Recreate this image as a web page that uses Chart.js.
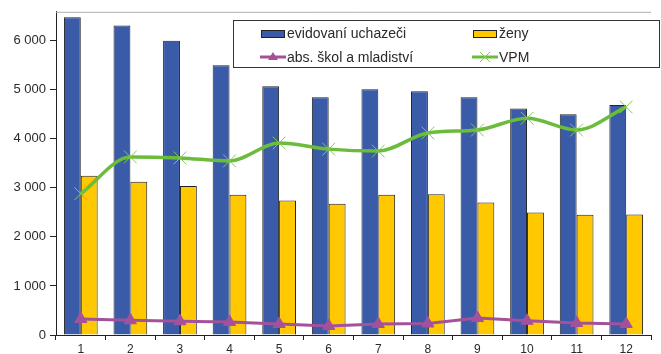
<!DOCTYPE html>
<html>
<head>
<meta charset="utf-8">
<script src="https://cdn.jsdelivr.net/npm/chart.js@4/dist/chart.umd.min.js"></script>
<style>
  html, body { margin: 0; padding: 0; background: #fff; }
  #wrap { width: 661px; height: 354px; }
</style>
</head>
<body>
<div id="wrap"><canvas id="chart" width="661" height="354"></canvas></div>
<script>
const months = ["1", "2", "3", "4", "5", "6", "7", "8", "9", "10", "11", "12"];
const evidovani = [6480, 6310, 6000, 5500, 5070, 4850, 5010, 4970, 4850, 4620, 4500, 4690];
const zeny = [3245, 3125, 3040, 2860, 2740, 2675, 2860, 2870, 2700, 2500, 2450, 2455];
const absolventi = [325, 300, 280, 265, 225, 185, 225, 235, 345, 290, 245, 225];
const vpm = [2880, 3630, 3610, 3550, 3915, 3790, 3750, 4120, 4180, 4420, 4180, 4650];
const yTicks = [0, 1000, 2000, 3000, 4000, 5000, 6000];

const FONT = "'Liberation Sans', Arial, sans-serif";
const blue = "#3a5ca8";
const yellow = "#ffc800";
const purple = "#a4519c";
const green = "#6cbc3c";
const textColor = "#2a2a2a";

function fmt(v) {
  return String(v).replace(/\B(?=(\d{3})+(?!\d))/g, " ");
}

// grey line along the top of the plot area
const framePlugin = {
  id: "frame",
  beforeDatasetsDraw(chart) {
    const a = chart.chartArea, ctx = chart.ctx;
    ctx.save();
    ctx.strokeStyle = "#b0b0b0";
    ctx.lineWidth = 1;
    ctx.beginPath();
    ctx.moveTo(a.left, a.top + 0.5);
    ctx.lineTo(a.right, a.top + 0.5);
    ctx.stroke();
    ctx.restore();
  }
};

// legend box in the top right, like the original
const legendPlugin = {
  id: "boxLegend",
  afterDraw(chart) {
    const ctx = chart.ctx;
    const ds = chart.data.datasets;
    ctx.save();
    ctx.fillStyle = "#fff";
    ctx.fillRect(233, 20, 426, 47);
    ctx.strokeStyle = "#333";
    ctx.lineWidth = 1;
    ctx.strokeRect(233.5, 20.5, 426, 47);

    const items = [
      { d: ds[0], x: 261, y: 33 },
      { d: ds[1], x: 473, y: 33 },
      { d: ds[2], x: 261, y: 57 },
      { d: ds[3], x: 473, y: 57 }
    ];
    ctx.font = "14px " + FONT;
    ctx.textBaseline = "middle";
    items.forEach(it => {
      const d = it.d;
      if (d.type === "line") {
        ctx.strokeStyle = d.borderColor;
        ctx.lineWidth = 3;
        ctx.beginPath();
        ctx.moveTo(it.x - 1, it.y);
        ctx.lineTo(it.x + 25, it.y);
        ctx.stroke();
        const cx = it.x + 12;
        if (d.pointStyle === "triangle") {
          ctx.fillStyle = d.borderColor;
          ctx.beginPath();
          ctx.moveTo(cx, it.y - 5);
          ctx.lineTo(cx + 5, it.y + 3);
          ctx.lineTo(cx - 5, it.y + 3);
          ctx.closePath();
          ctx.fill();
        } else {
          ctx.strokeStyle = d.pointBorderColor;
          ctx.lineWidth = 1;
          ctx.beginPath();
          ctx.moveTo(cx - 5, it.y - 5); ctx.lineTo(cx + 5, it.y + 5);
          ctx.moveTo(cx + 5, it.y - 5); ctx.lineTo(cx - 5, it.y + 5);
          ctx.stroke();
        }
      } else {
        ctx.fillStyle = d.backgroundColor;
        ctx.fillRect(it.x, it.y - 3, 23, 7);
        ctx.strokeStyle = "#222";
        ctx.lineWidth = 1;
        ctx.strokeRect(it.x + 0.5, it.y - 2.5, 23, 7);
      }
      ctx.fillStyle = textColor;
      ctx.fillText(d.label, it.x + 26, it.y + 1);
    });
    ctx.restore();
  }
};

new Chart(document.getElementById("chart"), {
  type: "bar",
  data: {
    labels: months,
    datasets: [
      {
        label: "evidovaní uchazeči",
        data: evidovani,
        backgroundColor: blue,
        borderColor: "#222",
        borderWidth: 1,
        order: 3
      },
      {
        label: "ženy",
        data: zeny,
        backgroundColor: yellow,
        borderColor: "#222",
        borderWidth: 1,
        order: 3
      },
      {
        type: "line",
        label: "abs. škol a mladiství",
        data: absolventi,
        borderColor: purple,
        backgroundColor: purple,
        borderWidth: 3,
        pointStyle: "triangle",
        pointRadius: 7,
        pointBackgroundColor: purple,
        pointBorderColor: purple,
        pointBorderWidth: 1,
        tension: 0,
        order: 1
      },
      {
        type: "line",
        label: "VPM",
        data: vpm,
        borderColor: green,
        backgroundColor: green,
        borderWidth: 3.5,
        pointStyle: "crossRot",
        pointRadius: 9,
        pointBorderColor: "#7dcc50",
        pointBorderWidth: 1,
        cubicInterpolationMode: "monotone",
        tension: 0.3,
        order: 2
      }
    ]
  },
  options: {
    responsive: false,
    animation: false,
    layout: { padding: { top: 9, right: 1, left: 0, bottom: 0 } },
    plugins: {
      legend: { display: false },
      tooltip: { enabled: false }
    },
    datasets: {
      bar: { categoryPercentage: 0.68, barPercentage: 1 }
    },
    scales: {
      x: {
        offset: true,
        grid: {
          offset: true,
          drawOnChartArea: false,
          tickLength: 5,
          color: "#222"
        },
        border: { color: "#222", width: 1 },
        ticks: {
          color: textColor,
          font: { family: FONT, size: 12 },
          padding: 2
        },
        afterFit(scale) { scale.height = 19; }
      },
      y: {
        min: 0,
        max: 6590,
        afterBuildTicks(scale) {
          scale.ticks = yTicks.map(v => ({ value: v }));
        },
        grid: {
          drawOnChartArea: false,
          tickLength: 6,
          color: "#222"
        },
        border: { color: "#222", width: 1 },
        ticks: {
          color: textColor,
          font: { family: FONT, size: 13 },
          padding: 4,
          callback: v => fmt(v)
        },
        afterFit(scale) { scale.width = 56; }
      }
    }
  },
  plugins: [framePlugin, legendPlugin]
});
</script>
</body>
</html>
